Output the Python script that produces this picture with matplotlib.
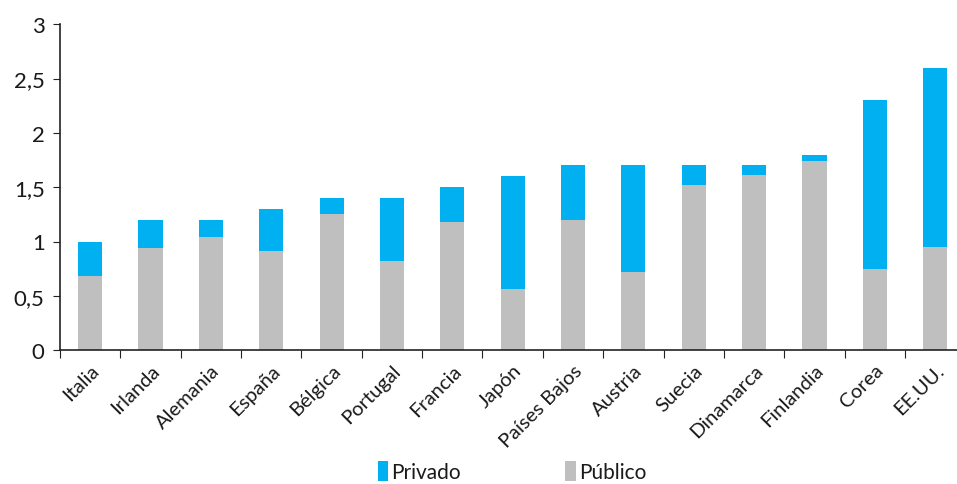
import matplotlib.pyplot as plt
import numpy as np

# Datos (% del PIB)
paises = ['Italia', 'Irlanda', 'Alemania', 'España', 'Bélgica', 'Portugal', 'Francia',
          'Japón', 'Países Bajos', 'Austria', 'Suecia', 'Dinamarca', 'Finlandia',
          'Corea', 'EE.UU.']
publico = [0.68, 0.94, 1.04, 0.91, 1.25, 0.82, 1.18, 0.56, 1.20, 0.72, 1.52, 1.61, 1.74, 0.75, 0.95]
total = [1.0, 1.2, 1.2, 1.3, 1.4, 1.4, 1.5, 1.6, 1.7, 1.7, 1.7, 1.7, 1.8, 2.3, 2.6]
privado = [t - p for t, p in zip(total, publico)]

plt.rcParams['font.family'] = ['Lato', 'DejaVu Sans']

fig = plt.figure(figsize=(9.57, 4.85), dpi=100)
ax = fig.add_axes([0.0627, 0.276, 0.946, 0.672])

x = np.arange(len(paises))
ax.bar(x, publico, width=0.4, color='#BFBFBF', label='Público')
ax.bar(x, privado, width=0.4, bottom=publico, color='#00B0F0', label='Privado')

ax.set_xlim(-0.5, len(paises) - 0.5)
ax.set_ylim(0, 3)
ax.set_yticks([0, 0.5, 1, 1.5, 2, 2.5, 3])
ax.set_yticklabels(['0', '0,5', '1', '1,5', '2', '2,5', '3'], fontsize=16, color='#1a1a1a')

# ticks del eje x entre categorias
ax.set_xticks(np.arange(len(paises) + 1) - 0.5)
ax.set_xticklabels([])
ax.set_xticks(x, minor=True)
ax.set_xticklabels(paises, minor=True, rotation=45, ha='right', rotation_mode='anchor',
                   fontsize=14.5, color='#1a1a1a')
ax.tick_params(axis='x', which='minor', length=0, pad=8)
ax.tick_params(axis='x', which='major', length=6, direction='out', color='#222222')
ax.tick_params(axis='y', length=5, color='#222222', pad=6)

for s in ['top', 'right']:
    ax.spines[s].set_visible(False)
for s in ['left', 'bottom']:
    ax.spines[s].set_color('#222222')
    ax.spines[s].set_linewidth(1.2)

h, l = ax.get_legend_handles_labels()
leg = fig.legend(h[::-1], l[::-1], loc='lower center', bbox_to_anchor=(0.535, -0.035), ncol=2,
                 frameon=False, fontsize=15, handlelength=0.5, handleheight=1.1,
                 handletextpad=0.15, columnspacing=5.0)
for t in leg.get_texts():
    t.set_color('#1a1a1a')

fig.savefig('out.png', dpi=100)
